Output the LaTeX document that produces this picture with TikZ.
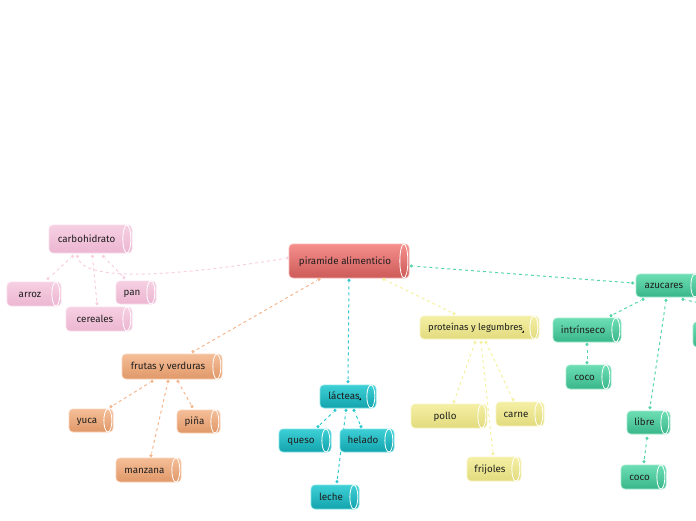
\documentclass[tikz,border=0pt]{standalone}
\usepackage{fontspec}
\setmainfont{Fira Sans}
\usetikzlibrary{backgrounds}
\definecolor{pinkT}{HTML}{F6CFE2}\definecolor{pinkB}{HTML}{ECB6D1}\definecolor{pinkL}{HTML}{F9DFEC}
\definecolor{redT}{HTML}{F58F8C}\definecolor{redB}{HTML}{CC5A58}\definecolor{redL}{HTML}{F7B5B3}
\definecolor{orangeT}{HTML}{F5BE98}\definecolor{orangeB}{HTML}{E09868}\definecolor{orangeL}{HTML}{F8D4BA}
\definecolor{tealT}{HTML}{3ED0D6}\definecolor{tealB}{HTML}{12A3AD}\definecolor{tealL}{HTML}{7FE2E6}
\definecolor{yellowT}{HTML}{F4EFA4}\definecolor{yellowB}{HTML}{E2DB7E}\definecolor{yellowL}{HTML}{F8F5C4}
\definecolor{greenT}{HTML}{6DDEB4}\definecolor{greenB}{HTML}{39B68A}\definecolor{greenL}{HTML}{A0EACE}
\definecolor{pinkC}{HTML}{F8D0E2}\definecolor{orangeC}{HTML}{F5B68C}\definecolor{tealC}{HTML}{2FC9CF}
\definecolor{yellowC}{HTML}{F5F0A2}\definecolor{greenC}{HTML}{55D6AA}
\tikzset{
  x=1pt,y=-1pt,
  cylbox/.style={rectangle,rounded corners=4pt,inner sep=0pt,top color=#1T,bottom color=#1B,draw=#1L,line width=.7pt,
    text=black!88,font=\fontsize{9.8}{11}\selectfont},
  conn/.style={#1C,dash pattern=on 3pt off 3pt,line width=1pt},
}
\newcommand{\cyl}[7]{%
  \pgfmathsetmacro{\cw}{#4-#2}\pgfmathsetmacro{\ch}{#5-#3}%
  \pgfmathsetmacro{\cx}{(#2+#4)/2}\pgfmathsetmacro{\cy}{(#3+#5)/2}%
  \node[cylbox=#6,minimum width=\cw pt,minimum height=\ch pt] (#1) at (\cx,\cy) {\raisebox{-1.2pt}{\mbox{\vphantom{Ág}#7\hspace{8pt}}}};
  \draw[white,line width=.8pt] ([xshift=-5.5pt]#1.east) ellipse [x radius=4pt,y radius=\ch/2 pt];
}
\newcommand{\tipmark}[1]{\fill[black] #1 ++(-1.3,.6) -- ++(2.2,0) -- ++(0,-2.2) -- cycle;}
\newcommand{\link}[4][--]{%
  \begin{pgfonlayer}{background}
  \draw[conn=#2] (#3) #1 (#4);
  \fill[white] (#3) circle (2.6pt); \fill[white] (#4) circle (2.6pt);
  \end{pgfonlayer}
  \fill[#2C] (#3) circle (1.7pt); \fill[#2C] (#4) circle (1.7pt);
}
\begin{document}
\begin{tikzpicture}
\useasboundingbox (0,0) rectangle (696,520);
\begin{scope}
\clip (0,0) rectangle (696,520);
\cyl{main}{289}{244}{409}{278}{red}{piramide alimenticio}
\cyl{carbo}{49}{225}{132}{253}{pink}{carbohidrato}
\cyl{arroz}{7}{282}{61}{306}{pink}{arroz}
\cyl{pan}{116}{281}{156}{304}{pink}{pan}
\cyl{cereales}{66}{307}{132}{331}{pink}{cereales}
\cyl{frutas}{122}{354}{222}{379}{orange}{frutas y verduras}
\cyl{yuca}{69}{409}{113}{432}{orange}{yuca}
\cyl{pina}{177}{410}{220}{433}{orange}{piña}
\cyl{manzana}{116}{458}{181}{482}{orange}{manzana}
\cyl{lacteas}{320}{385}{376}{408}{teal}{lácteas}
\cyl{queso}{279}{429}{331}{452}{teal}{queso}
\cyl{helado}{340}{429}{394}{452}{teal}{helado}
\cyl{leche}{311}{485}{359}{509}{teal}{leche}
\cyl{prot}{420}{316}{539}{339}{yellow}{\fontsize{9.4}{11}\selectfont proteínas y legumbres}
\cyl{pollo}{411}{404}{487}{428}{yellow}{pollo}
\cyl{carne}{496}{402}{544}{426}{yellow}{carne}
\cyl{frijoles}{467}{457}{521}{481}{yellow}{frijoles}
\cyl{azucares}{636}{274}{700}{297}{green}{azucares}
\cyl{intr}{553}{318}{621}{342}{green}{intrínseco}
\cyl{cocoa}{566}{365}{611}{389}{green}{coco}
\cyl{libre}{627}{411}{670}{434}{green}{libre}
\cyl{cocob}{621}{465}{666}{489}{green}{coco}
\cyl{cutoff}{693}{322}{740}{347}{green}{}
\tipmark{(360,399.5)}
\tipmark{(523,332)}
\end{scope}
\link[.. controls (190,274) and (82,285) ..]{pink}{[xshift=-1pt,yshift=3pt]main.west}{[xshift=-13pt,yshift=-3pt]carbo.south}
\link{pink}{[xshift=-18pt,yshift=-3pt]carbo.south}{[xshift=14pt,yshift=3pt]arroz.north}
\link{pink}{[xshift=2pt,yshift=-3pt]carbo.south}{[xshift=-2pt,yshift=3pt]cereales.north}
\link{pink}{[xshift=13pt,yshift=-3pt]carbo.south}{[xshift=-12pt,yshift=3pt]pan.north}
\link{orange}{[xshift=-30pt,yshift=-1pt]main.south}{[xshift=21pt,yshift=2pt]frutas.north}
\link{teal}{[yshift=-2pt]main.south}{[yshift=3pt]lacteas.north}
\link{yellow}{[xshift=35pt,yshift=-1pt]main.south}{[xshift=-25.5pt,yshift=2pt]prot.north}
\link{green}{[xshift=2pt,yshift=-5pt]main.east}{[xshift=-3pt,yshift=2.5pt]azucares.west}
\link{orange}{[xshift=-20pt,yshift=-2pt]frutas.south}{[xshift=20pt,yshift=2pt]yuca.north}
\link{orange}{[xshift=-4pt,yshift=-2pt]frutas.south}{[xshift=2.5pt,yshift=2pt]manzana.north}
\link{orange}{[xshift=6pt,yshift=-2pt]frutas.south}{[xshift=-6.5pt,yshift=3pt]pina.north}
\link{teal}{[xshift=-13pt,yshift=-2pt]lacteas.south}{[xshift=13pt,yshift=2pt]queso.north}
\link{teal}{[xshift=-2pt,yshift=-2pt]lacteas.south}{[xshift=2pt,yshift=3pt]leche.north}
\link{teal}{[xshift=6pt,yshift=-2pt]lacteas.south}{[xshift=-6pt,yshift=2pt]helado.north}
\link{yellow}{[xshift=-4.5pt,yshift=-3pt]prot.south}{[xshift=5pt,yshift=2pt]pollo.north}
\link{yellow}{[xshift=1.5pt,yshift=-3pt]prot.south}{[xshift=-1pt,yshift=3pt]frijoles.north}
\link{yellow}{[xshift=6.5pt,yshift=-3pt]prot.south}{[xshift=-7pt,yshift=2pt]carne.north}
\link{green}{[xshift=-25pt,yshift=-2pt]azucares.south}{[xshift=24pt,yshift=2pt]intr.north}
\link{green}{[xshift=-2pt,yshift=-3pt]azucares.south}{[xshift=1.5pt,yshift=3pt]libre.north}
\link{green}{[xshift=15pt,yshift=-2pt]azucares.south}{[xshift=0pt,yshift=15pt]cutoff.north}
\link{green}{[xshift=0pt,yshift=-2pt]intr.south}{[xshift=-1.5pt,yshift=2pt]cocoa.north}
\link{green}{[xshift=-1.5pt,yshift=-4pt]libre.south}{[xshift=.5pt,yshift=3pt]cocob.north}
\end{tikzpicture}
\end{document}
